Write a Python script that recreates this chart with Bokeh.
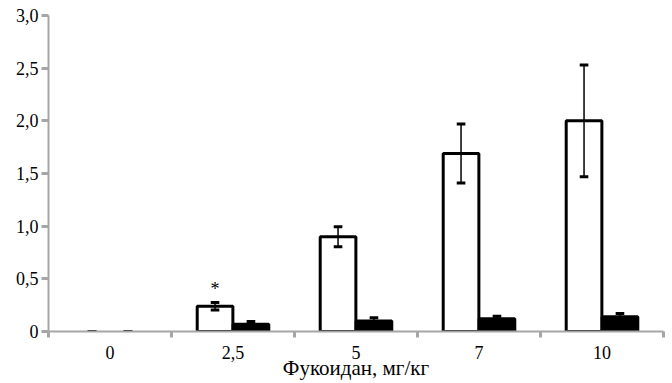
import numpy as np
from bokeh.plotting import figure
from bokeh.models import FixedTicker, Range1d
from bokeh.core.properties import value
from bokeh.embed import file_html
from bokeh.resources import INLINE

categories = ["0", "2,5", "5", "7", "10"]
white_vals = [0.0, 0.24, 0.90, 1.69, 2.00]
white_err = [0.0, 0.035, 0.095, 0.28, 0.53]
black_vals = [0.0, 0.07, 0.10, 0.12, 0.14]
black_err = [0.0, 0.025, 0.03, 0.025, 0.03]
y_ticks = [0, 0.5, 1.0, 1.5, 2.0, 2.5, 3.0]
y_tick_labels = ["0", "0,5", "1,0", "1,5", "2,0", "2,5", "3,0"]
x_label = "Фукоидан, мг/кг"
star_category = "2,5"

FONT = "Liberation Serif"
GRAY = "#a6a6a6"

centers = np.arange(len(categories)) + 0.5
off = 0.146
bw = 0.29
cap = 0.035

p = figure(width=668, height=383, output_backend="svg", toolbar_location=None,
           x_range=Range1d(0, len(categories)), y_range=Range1d(0, 3.0),
           min_border_left=48, min_border_right=5, min_border_top=15, min_border_bottom=52)
p.outline_line_color = None
p.grid.grid_line_color = None
p.background_fill_color = "white"

xw = centers - off
xb = centers + off
w_alpha = [1.0 if v > 0 else 0.0 for v in white_vals]
b_alpha = [1.0 if v > 0 else 0.0 for v in black_vals]
p.vbar(x=xw, top=white_vals, width=bw, bottom=0, fill_color="white", line_color="black",
       line_width=3, line_alpha=w_alpha)
p.vbar(x=xb, top=black_vals, width=bw, bottom=0, fill_color="black", line_color="black",
       line_width=3, line_alpha=b_alpha)

for xs, vals, errs in ((xw, white_vals, white_err), (xb, black_vals, black_err)):
    v = np.array(vals); e = np.array(errs)
    lo = v - e; hi = v + e
    p.segment(x0=xs, y0=lo, x1=xs, y1=hi, line_color="black", line_width=1.5)
    p.segment(x0=xs - cap, y0=hi, x1=xs + cap, y1=hi, line_color="black", line_width=3)
    p.segment(x0=xs - cap, y0=lo, x1=xs + cap, y1=lo, line_color="black", line_width=3)

si = categories.index(star_category)
p.text(x=[xw[si]], y=[white_vals[si] + white_err[si] + 0.03], text=["*"],
       text_font=value(FONT), text_font_size="18px", text_align="center",
       text_baseline="bottom", text_color="black")

# x axis
xa = p.xaxis[0]
xa.ticker = FixedTicker(ticks=list(centers), minor_ticks=list(range(len(categories) + 1)))
xa.major_label_overrides = {float(c): lab for c, lab in zip(centers, categories)}
xa.major_tick_line_color = None
xa.major_tick_out = 0
xa.minor_tick_line_color = GRAY
xa.minor_tick_line_width = 3
xa.minor_tick_out = 6
xa.minor_tick_in = 0
xa.axis_line_color = GRAY
xa.axis_line_width = 2
xa.major_label_text_font = FONT
xa.major_label_text_font_size = "18px"
xa.major_label_text_color = "black"
xa.major_label_standoff = 8
xa.axis_label = x_label
xa.axis_label_text_font = FONT
xa.axis_label_text_font_size = "21px"
xa.axis_label_text_font_style = "normal"
xa.axis_label_text_color = "black"
xa.axis_label_standoff = -6

ya = p.yaxis[0]
ya.ticker = FixedTicker(ticks=y_ticks)
ya.major_label_overrides = {float(t): lab for t, lab in zip(y_ticks, y_tick_labels)}
ya.major_label_overrides[0] = "0"
ya.major_tick_line_color = GRAY
ya.major_tick_line_width = 3
ya.major_tick_out = 7
ya.major_tick_in = 0
ya.minor_tick_line_color = None
ya.axis_line_color = GRAY
ya.axis_line_width = 2
ya.major_label_text_font = FONT
ya.major_label_text_font_size = "18px"
ya.major_label_text_color = "black"
ya.major_label_standoff = 3

open("out.html", "w").write(file_html(p, INLINE))
